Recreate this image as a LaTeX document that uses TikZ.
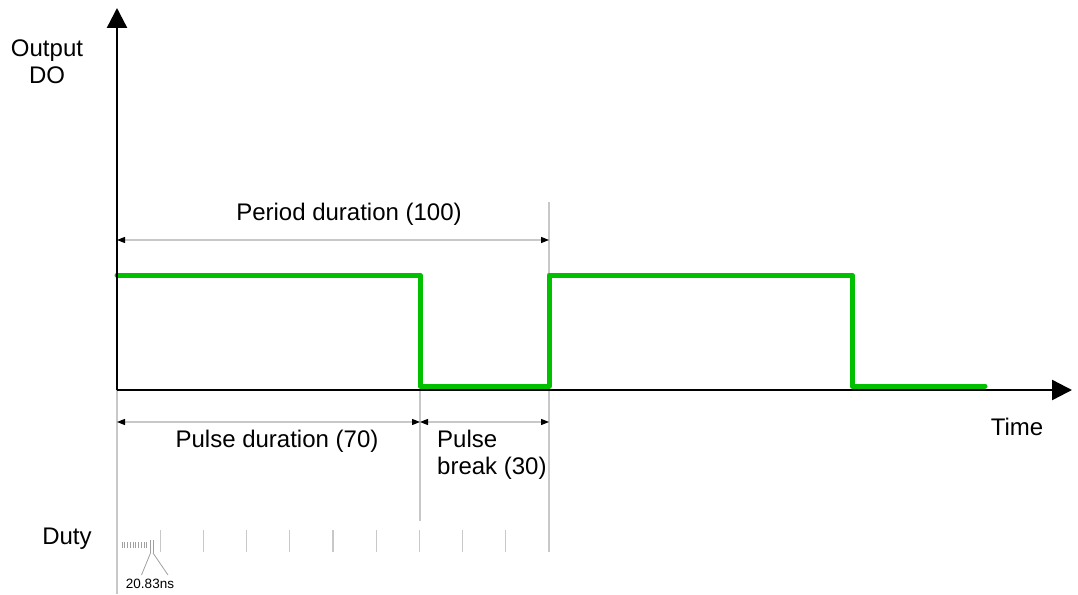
\documentclass[tikz,border=0pt]{standalone}
\usepackage{fontspec}
\setmainfont{Liberation Sans}
\usetikzlibrary{arrows.meta}
\definecolor{sig}{RGB}{0,192,0}
\definecolor{guide}{RGB}{200,200,200}
\definecolor{fineg}{RGB}{160,160,160}
\tikzset{
  axis/.style={line width=2.4pt,-{Triangle[length=20pt,width=20pt]}},
  guideline/.style={draw=guide,line width=1.1pt},
  dim/.style={draw=guide,line width=1.1pt,{Triangle[length=8pt,width=6pt,color=black]}-{Triangle[length=8pt,width=6pt,color=black]}},
  signal/.style={draw=sig,line width=5pt,line cap=round,line join=round},
  lbl/.style={font=\fontsize{24}{27}\selectfont,inner sep=0pt},
  small/.style={font=\fontsize{13.5}{16}\selectfont,inner sep=0pt},
  fine/.style={draw=fineg,line width=0.8pt},
}
\begin{document}
\begin{tikzpicture}[x=1pt,y=-1pt]
\useasboundingbox (0,0) rectangle (1078,594);
% coordinates
\coordinate (O) at (117,390);
\coordinate (ytip) at (117,8);
\coordinate (xtip) at (1072,390);
% guide lines
\coordinate (g0a) at (117,390); \coordinate (g0b) at (117,594);
\coordinate (g1a) at (420,390); \coordinate (g1b) at (420,521);
\coordinate (g2a) at (549,202); \coordinate (g2b) at (549,552);
\draw[guideline] (g0a) -- (g0b);
\draw[guideline] (g1a) -- (g1b);
\draw[guideline] (g2a) -- (g2b);
% duty ticks
\foreach \k in {1,...,9} {
  \coordinate (ta\k) at ({117+43.2*\k},530);
  \coordinate (tb\k) at ({117+43.2*\k},552);
  \draw[guideline] (ta\k) -- (tb\k);
}
\foreach \k in {0,...,9} {
  \coordinate (sa\k) at ({122+2.75*\k},542);
  \coordinate (sb\k) at ({122+2.75*\k},548);
  \draw[fine] (sa\k) -- (sb\k);
}
\coordinate (la) at (150.5,540); \coordinate (lb) at (150.5,553);
\coordinate (ma) at (153,540); \coordinate (mb) at (153,553);
\draw[fine] (la) -- (lb);
\draw[fine] (ma) -- (mb);
\node[small] (ns) at (150,584) {20.83ns};
\coordinate (ns1) at (141.5,575); \coordinate (ns2) at (168,575);
\draw[fine] (lb) -- (ns1);
\draw[fine] (mb) -- (ns2);
% dimension arrows
\coordinate (p1) at (117,240); \coordinate (p2) at (549,240);
\draw[dim] (p1) -- (p2);
\coordinate (d1) at (117,422); \coordinate (d2) at (420,422); \coordinate (d3) at (549,422);
\draw[dim] (d1) -- (d2);
\draw[dim] (d2) -- (d3);
% signal
\coordinate (s0) at (117,275);
\coordinate (s1) at (420,275);
\coordinate (s2) at (420,386);
\coordinate (s3) at (549,386);
\coordinate (s4) at (549,275);
\coordinate (s5) at (852,275);
\coordinate (s6) at (852,386);
\coordinate (s7) at (985,386);
\draw[signal] (s0) -- (s1) -- (s2) -- (s3) -- (s4) -- (s5) -- (s6) -- (s7);
% axes
\draw[axis] (O) -- (ytip);
\draw[axis] (O) -- (xtip);
% labels
\node[lbl,align=center] (out) at (47,62) {Output\\DO};
\node[lbl] (per) at (349,214) {Period duration (100)};
\node[lbl] (pd) at (277,441) {Pulse duration (70)};
\node[lbl,align=left,anchor=west] (pb) at (437,455) {Pulse\\break (30)};
\node[lbl] (time) at (1017,427) {Time};
\node[lbl] (duty) at (67,539) {Duty};
\end{tikzpicture}
\end{document}
